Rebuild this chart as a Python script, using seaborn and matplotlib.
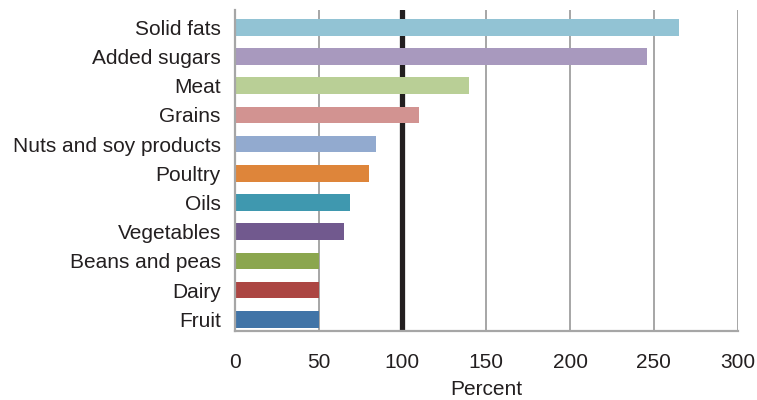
import matplotlib
matplotlib.use("Agg")
import matplotlib.pyplot as plt
import seaborn as sns
import pandas as pd

# Food groups and their consumption as a percent of the recommended amount
categories = ["Solid fats", "Added sugars", "Meat", "Grains", "Nuts and soy products",
              "Poultry", "Oils", "Vegetables", "Beans and peas", "Dairy", "Fruit"]
percent = [265, 246, 140, 110, 84, 80, 69, 65, 50, 50, 50]
colors = ["#92C3D4", "#A899BE", "#B9CF96", "#D29391", "#92AACF", "#DE853A",
          "#3F98AF", "#71598E", "#8BA64E", "#AC4643", "#4174A7"]
x_ticks = [0, 50, 100, 150, 200, 250, 300]
reference_level = 100

df = pd.DataFrame({"category": categories, "percent": percent})

sns.set_theme(style="white")
plt.rcParams["font.family"] = ["Liberation Sans", "DejaVu Sans"]
text_color = "#231F20"
grid_color = "#A6A6A6"

fig = plt.figure(figsize=(7.57, 4.00), dpi=100)
ax = fig.add_axes([0.3100, 0.1733, 0.6645, 0.8017])

ax.axvline(reference_level, color=text_color, lw=3.8, zorder=1.5)

sns.barplot(data=df, x="percent", y="category", hue="category", order=categories,
            hue_order=categories, palette=colors, orient="h", width=0.57,
            legend=False, saturation=1, linewidth=0, ax=ax, zorder=2)

ax.set_xlim(0, 300)
ax.set_ylim(10.39, -0.59)
ax.set_xticks(x_ticks)
ax.set_xticklabels([str(t) for t in x_ticks])
ax.xaxis.grid(True, color=grid_color, lw=1.4)
ax.set_axisbelow(True)

for side in ["top", "right"]:
    ax.spines[side].set_visible(False)
for side in ["left", "bottom"]:
    ax.spines[side].set_color(grid_color)
    ax.spines[side].set_linewidth(1.6)

ax.tick_params(axis="x", length=0, pad=16, labelsize=15, colors=text_color)
ax.tick_params(axis="y", length=0, pad=10, labelsize=15, colors=text_color)
ax.set_ylabel("")
ax.set_xlabel("Percent", fontsize=15, color=text_color, labelpad=6)

fig.savefig("out.png", dpi=100)
